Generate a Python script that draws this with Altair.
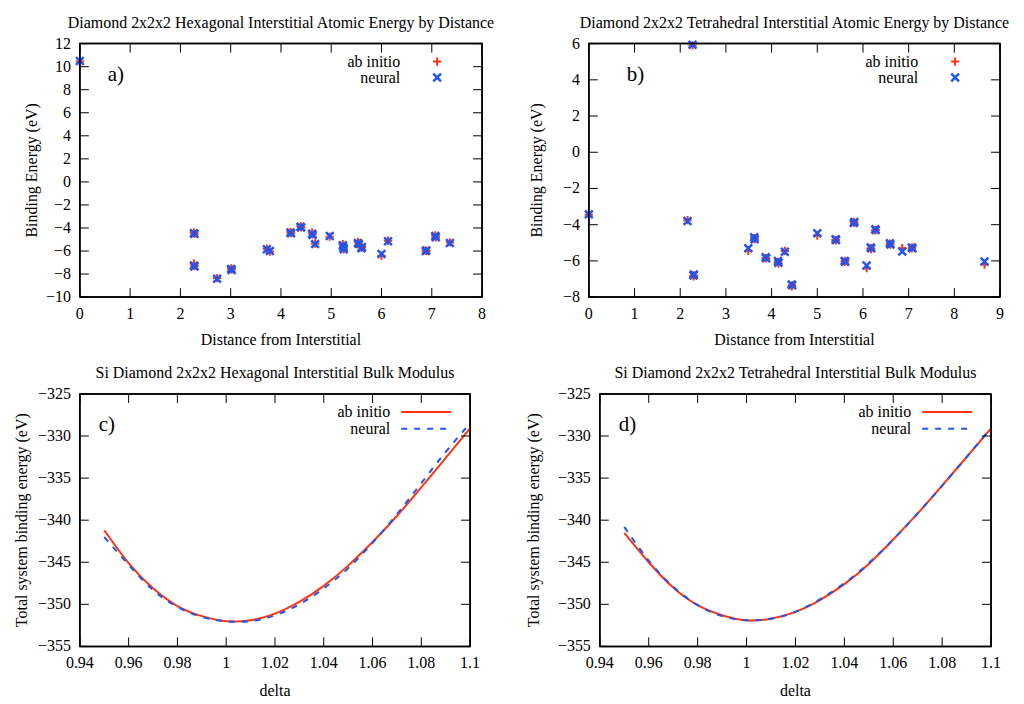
import altair as alt
import pandas as pd

FONT = "Liberation Serif"
RED = "#ff3311"
BLUE = "#2255ee"
INK = "#000000"
PLUS = "M-1,0L1,0M0,-1L0,1"
CROSS = "M-1,-1L1,1M-1,1L1,-1"
VTICK = "M0,-1L0,1"
HTICK = "M-1,0L1,0"
SERIES = ["ab initio", "neural"]

# ---------------- panel a: hexagonal interstitial ----------------
a_dist = [0.0, 2.27, 2.28, 2.27, 2.28, 2.73, 3.01, 3.02, 3.72, 3.78, 4.19, 4.20,
          4.39, 4.40, 4.62, 4.63, 4.68, 4.97, 5.23, 5.25, 5.24, 5.53, 5.55, 5.60,
          5.61, 6.00, 6.13, 6.88, 6.89, 7.07, 7.08, 7.36]
a_neural = [10.5, -4.45, -4.5, -7.25, -7.35, -8.4, -7.55, -7.65, -5.85, -6.0, -4.4, -4.45,
            -3.9, -3.95, -4.5, -4.6, -5.4, -4.7, -5.5, -5.85, -5.7, -5.3, -5.4, -5.75,
            -5.65, -6.25, -5.15, -6.0, -5.95, -4.7, -4.8, -5.3]
a_abinitio = [10.45, -4.4, -4.5, -7.1, -7.3, -8.35, -7.5, -7.6, -5.8, -6.05, -4.35, -4.45,
              -3.85, -3.95, -4.4, -4.55, -5.35, -4.75, -5.4, -5.85, -5.65, -5.2, -5.35, -5.7,
              -5.65, -6.4, -5.1, -5.95, -6.0, -4.65, -4.8, -5.25]

# ---------------- panel b: tetrahedral interstitial ----------------
b_dist = [0.0, 2.27, 2.16, 2.29, 2.30, 3.49, 3.62, 3.63, 3.87, 3.88, 4.15, 4.14, 4.29,
          4.44, 4.45, 5.00, 5.40, 5.41, 5.60, 5.61, 5.80, 5.81, 6.08, 6.17, 6.18, 6.27,
          6.28, 6.59, 6.60, 6.86, 7.07, 7.08, 8.66]
b_neural = [-3.43, 5.94, -3.8, -6.8, -6.75, -5.3, -4.7, -4.8, -5.8, -5.85, -6.1, -6.0, -5.5,
            -7.3, -7.35, -4.47, -4.8, -4.85, -6.0, -6.05, -3.9, -3.85, -6.25, -5.26, -5.3, -4.25,
            -4.3, -5.03, -5.1, -5.48, -5.26, -5.3, -6.03]
b_abinitio = [-3.45, 5.9, -3.75, -6.85, -6.8, -5.45, -4.75, -4.8, -5.85, -5.85, -6.15, -6.05, -5.45,
              -7.4, -7.35, -4.6, -4.85, -4.85, -6.05, -6.0, -3.85, -3.9, -6.4, -5.3, -5.35, -4.3,
              -4.3, -5.05, -5.1, -5.3, -5.3, -5.25, -6.2]

# ---------------- panels c, d: bulk modulus curves ----------------
delta = [0.95, 0.96, 0.97, 0.98, 0.99, 1.00, 1.01, 1.02, 1.03, 1.04, 1.05, 1.06,
         1.07, 1.08, 1.09, 1.10]
c_abinitio = [-341.2, -345.1, -348.1, -350.2, -351.4, -352.0, -351.9, -351.1, -349.7,
              -347.8, -345.4, -342.6, -339.5, -336.1, -332.6, -329.1]
c_neural = [-342.0, -345.3, -348.3, -350.3, -351.5, -352.0, -352.0, -351.3, -350.0,
            -348.1, -345.7, -342.7, -339.3, -335.6, -331.9, -328.5]
d_abinitio = [-341.5, -345.0, -348.0, -350.1, -351.3, -351.9, -351.7, -350.9, -349.5,
              -347.6, -345.2, -342.3, -339.2, -335.9, -332.5, -329.1]
d_neural = [-340.8, -344.8, -347.9, -350.1, -351.4, -351.9, -351.7, -350.9, -349.4,
            -347.5, -345.1, -342.3, -339.2, -335.9, -332.5, -329.0]

a_xticks = [0, 1, 2, 3, 4, 5, 6, 7, 8]
a_yticks = [-10, -8, -6, -4, -2, 0, 2, 4, 6, 8, 10, 12]
b_xticks = [0, 1, 2, 3, 4, 5, 6, 7, 8, 9]
b_yticks = [-8, -6, -4, -2, 0, 2, 4, 6]
cd_xticks = [0.94, 0.96, 0.98, 1.0, 1.02, 1.04, 1.06, 1.08, 1.1]
cd_yticks = [-355, -350, -345, -340, -335, -330, -325]

TL = 9  # inward tick length


def one(txt):
    return pd.DataFrame({"t": [txt]})


def text_item(txt, x, y, size=16, align="right", angle=0):
    return alt.Chart(one(txt)).mark_text(
        align=align, baseline="middle", font=FONT, fontSize=size, color="black", angle=angle
    ).encode(text="t:N", x=alt.value(x), y=alt.value(y))


def guide_text(xticks, yticks, xsc, ysc, W, H, xtitle, ytitle, ytitle_x, xtitle_dy):
    xs = pd.DataFrame({"tv": xticks})
    ys = pd.DataFrame({"tv": yticks})
    xenc = alt.X("tv:Q", scale=xsc, axis=None)
    yenc = alt.Y("tv:Q", scale=ysc, axis=None)
    return [
        alt.Chart(xs).mark_text(align="center", baseline="top", font=FONT, fontSize=16,
                                color="black").encode(
            x=xenc, y=alt.value(H + 9), text=alt.Text("tv:Q", format="~g")),
        alt.Chart(ys).mark_text(align="right", baseline="middle", font=FONT, fontSize=16,
                                color="black").encode(
            y=yenc, x=alt.value(-9), text=alt.Text("tv:Q", format="~g")),
        text_item(xtitle, W / 2, H + xtitle_dy, align="center"),
        text_item(ytitle, ytitle_x, H / 2, align="center", angle=270),
    ]


def frame_ticks(xticks, yticks, xsc, ysc, W, H):
    xs = pd.DataFrame({"tk": xticks})
    ys = pd.DataFrame({"tk": yticks})
    xenc = alt.X("tk:Q", scale=xsc, axis=None)
    yenc = alt.Y("tk:Q", scale=ysc, axis=None)
    edges = [("top", 0, W, 0, 0), ("bottom", 0, W, H, H),
             ("left", 0, 0, 0, H), ("right", W, W, 0, H)]
    layers = []
    for name, x1, x2, y1, y2 in edges:
        enc = dict(x=alt.value(x1), y=alt.value(y1))
        if x2 != x1:
            enc["x2"] = alt.value(x2)
        if y2 != y1:
            enc["y2"] = alt.value(y2)
        layers.append(alt.Chart(one(name)).mark_rule(color=INK, strokeWidth=1.5,
                                                     opacity=1).encode(**enc))
    pt = dict(filled=False, color=INK, strokeWidth=1, size=TL * TL, opacity=1)
    layers += [
        alt.Chart(xs).mark_point(shape=VTICK, **pt).encode(x=xenc, y=alt.value(H - TL / 2)),
        alt.Chart(xs).mark_point(shape=VTICK, **pt).encode(x=xenc, y=alt.value(TL / 2)),
        alt.Chart(ys).mark_point(shape=HTICK, **pt).encode(y=yenc, x=alt.value(TL / 2)),
        alt.Chart(ys).mark_point(shape=HTICK, **pt).encode(y=yenc, x=alt.value(W - TL / 2)),
    ]
    return layers


def legend_text(W, off, y1, y2):
    return [text_item(SERIES[0], W - off, y1), text_item(SERIES[1], W - off, y2)]


def make_title(txt):
    return alt.TitleParams(txt, font=FONT, fontSize=16, fontWeight="normal",
                           color="black", anchor="middle", offset=5)


def scatter_panel(dist, ab, nn, xdom, ydom, xticks, yticks, W, H, title, tag, tagx, ytx):
    df = pd.DataFrame({"Distance": dist, "ab": ab, "nn": nn})
    xsc = alt.Scale(domain=xdom, nice=False, zero=False)
    ysc = alt.Scale(domain=ydom, nice=False, zero=False)
    red = alt.Chart(df).mark_point(shape=PLUS, filled=False, color=RED, strokeWidth=2,
                                   size=70, opacity=1).encode(
        x=alt.X("Distance:Q", scale=xsc, axis=None),
        y=alt.Y("ab:Q", scale=ysc, axis=None))
    blue = alt.Chart(df).mark_point(shape=CROSS, filled=False, color=BLUE, strokeWidth=2.5,
                                    size=60, opacity=1).encode(
        x=alt.X("Distance:Q", scale=xsc, axis=None),
        y=alt.Y("nn:Q", scale=ysc, axis=None))
    sx = W - 45
    leg_red = alt.Chart(one(SERIES[0])).mark_point(
        shape=PLUS, filled=False, color=RED, strokeWidth=2, size=70, opacity=1
    ).encode(x=alt.value(sx), y=alt.value(18))
    leg_blue = alt.Chart(one(SERIES[1])).mark_point(
        shape=CROSS, filled=False, color=BLUE, strokeWidth=2.5, size=60, opacity=1
    ).encode(x=alt.value(sx), y=alt.value(34))
    layers = [red, blue, leg_red, leg_blue,
              text_item(tag, tagx, 31, size=21, align="left")]
    layers += legend_text(W, 82, 18, 34)
    layers += guide_text(xticks, yticks, xsc, ysc, W, H, "Distance from Interstitial",
                         "Binding Energy (eV)", ytx, 43)
    layers += frame_ticks(xticks, yticks, xsc, ysc, W, H)
    return alt.layer(*layers).properties(width=W, height=H, title=make_title(title))


def curve_panel(ab, nn, W, H, title, tag, ytx):
    df = pd.DataFrame({"delta": delta, "ab": ab, "nn": nn})
    xsc = alt.Scale(domain=[0.94, 1.1], nice=False, zero=False)
    ysc = alt.Scale(domain=[-355, -325], nice=False, zero=False)
    red = alt.Chart(df).mark_line(color=RED, strokeWidth=2, interpolate="natural").encode(
        x=alt.X("delta:Q", scale=xsc, axis=None),
        y=alt.Y("ab:Q", scale=ysc, axis=None))
    blue = alt.Chart(df).mark_line(color=BLUE, strokeWidth=2, strokeDash=[6, 7],
                                   interpolate="natural").encode(
        x=alt.X("delta:Q", scale=xsc, axis=None),
        y=alt.Y("nn:Q", scale=ysc, axis=None))
    leg_red = alt.Chart(one(SERIES[0])).mark_rule(color=RED, strokeWidth=2).encode(
        x=alt.value(W - 69), x2=alt.value(W - 19), y=alt.value(18))
    leg_blue = alt.Chart(one(SERIES[1])).mark_rule(
        color=BLUE, strokeWidth=2, strokeDash=[6, 7]).encode(
        x=alt.value(W - 69), x2=alt.value(W - 19), y=alt.value(35))
    layers = [red, blue, leg_red, leg_blue,
              text_item(tag, 19, 31, size=21, align="left")]
    layers += legend_text(W, 80, 18, 35)
    layers += guide_text(cd_xticks, cd_yticks, xsc, ysc, W, H, "delta",
                         "Total system binding energy (eV)", ytx, 45)
    layers += frame_ticks(cd_xticks, cd_yticks, xsc, ysc, W, H)
    return alt.layer(*layers).properties(width=W, height=H, title=make_title(title))


pa = scatter_panel(a_dist, a_abinitio, a_neural, [0, 8], [-10, 12], a_xticks, a_yticks,
                   403, 254, "Diamond 2x2x2 Hexagonal Interstitial Atomic Energy by Distance",
                   "a)", 28, -48)
pb = scatter_panel(b_dist, b_abinitio, b_neural, [0, 9], [-8, 6], b_xticks, b_yticks,
                   412, 254, "Diamond 2x2x2 Tetrahedral Interstitial Atomic Energy by Distance",
                   "b)", 38, -52)
pc = curve_panel(c_abinitio, c_neural, 391, 253,
                 "Si Diamond 2x2x2 Hexagonal Interstitial Bulk Modulus", "c)", -58)
pd_ = curve_panel(d_abinitio, d_neural, 392, 253,
                  "Si Diamond 2x2x2 Tetrahedral Interstitial Bulk Modulus", "d)", -66)

row1 = alt.hconcat(pa, pb, spacing=107, bounds="flush")
row2 = alt.hconcat(pc, pd_, spacing=130, bounds="flush")

chart = alt.vconcat(row1, row2, spacing=15).configure_view(
    stroke="black", strokeWidth=1.5
)

chart.save("out.html", embed_options={"renderer": "svg", "actions": False})
